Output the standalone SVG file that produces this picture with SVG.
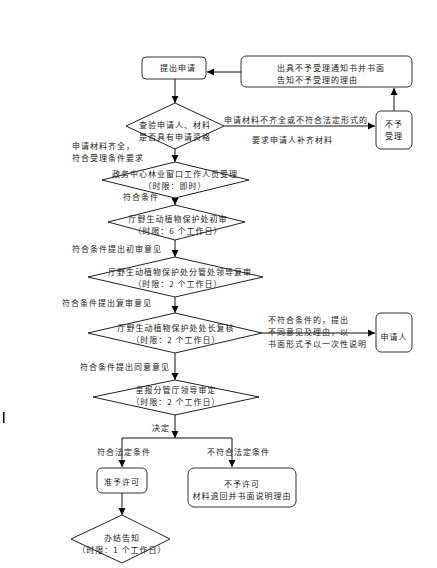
<svg xmlns="http://www.w3.org/2000/svg" width="437" height="568" viewBox="0 0 437 568">
<defs>
<marker id="arr" markerWidth="8" markerHeight="8" refX="7" refY="4" orient="auto" markerUnits="userSpaceOnUse">
<path d="M0,0.5 L7,4 L0,7.5 Z" fill="#000"/>
</marker>
<style>
text{font-family:"Noto Sans CJK SC","Noto Sans",sans-serif;font-size:8px;letter-spacing:1px;fill:#222}
.c{text-anchor:middle}
.box{fill:#fff;stroke:#333;stroke-width:1}
.dia{fill:#fff;stroke:#222;stroke-width:1}
.ln{fill:none;stroke:#111;stroke-width:1;marker-end:url(#arr)}
</style>
</defs>
<rect width="437" height="568" fill="#fff"/>
<g id="connectors">
<path class="ln" d="M175,79 L175,103"/>
<path class="ln" d="M241,72 L207,72"/>
<path class="ln" d="M224,126 L375,126"/>
<path class="ln" d="M394,111 L394,88"/>
<path class="ln" d="M175,149 L175,162"/>
<path class="ln" d="M175,198 L175,205"/>
<path class="ln" d="M175,240 L175,257"/>
<path class="ln" d="M175,297 L175,313"/>
<path class="ln" d="M262,333 L375,333"/>
<path class="ln" d="M175,353 L175,380"/>
<path class="ln" d="M175,415 L175,438"/>
<path class="ln" d="M175,438 L122,438 L122,467"/>
<path class="ln" d="M175,438 L232,438 L232,467"/>
<path class="ln" d="M122,493 L122,515"/>
</g>
<g id="n_submit">
<rect class="box" x="142" y="57" width="64" height="22" rx="4"/>
<text class="c" x="178" y="71">提出申请</text>
</g>
<g id="n_notice">
<rect class="box" x="241" y="56" width="171" height="31" rx="5"/>
<text x="277" y="71">出具不予受理通知书并书面</text>
<text x="277" y="83">告知不予受理的理由</text>
</g>
<g id="d1">
<polygon class="dia" points="175,103 224,126 175,149 126,126"/>
<text class="c" x="175" y="128">查验申请人、材料</text>
<text class="c" x="175" y="140">是否具有申请资格</text>
</g>
<g id="n_reject">
<rect class="box" x="376" y="111" width="36" height="38" rx="5"/>
<text class="c" x="394" y="127">不予</text>
<text class="c" x="394" y="139">受理</text>
</g>
<g id="d2">
<polygon class="dia" points="175,162 249,180 175,198 102,180"/>
<text class="c" x="175" y="177">政务中心林业窗口工作人员受理</text>
<text class="c" x="175" y="189">（时限：即时）</text>
</g>
<g id="d3">
<polygon class="dia" points="175,205 245,222 175,240 108,222"/>
<text class="c" x="178" y="222">厅野生动植物保护处初审</text>
<text class="c" x="178" y="234">（时限：6 个工作日）</text>
</g>
<g id="d4">
<polygon class="dia" points="175,257 263,277 175,297 88,277"/>
<text class="c" x="180" y="275">厅野生动植物保护处分管处领导复审</text>
<text class="c" x="178" y="287">（时限：2 个工作日）</text>
</g>
<g id="d5">
<polygon class="dia" points="175,313 262,333 175,353 88,333"/>
<text class="c" x="176" y="331">厅野生动植物保护处处长复核</text>
<text class="c" x="176" y="343">（时限：2 个工作日）</text>
</g>
<g id="n_applicant">
<rect class="box" x="376" y="313" width="36" height="39" rx="5"/>
<text class="c" x="394" y="340">申请人</text>
</g>
<g id="d6">
<polygon class="dia" points="175,380 259,397 175,415 93,397"/>
<text class="c" x="176" y="393">呈报分管厅领导审定</text>
<text class="c" x="176" y="405">（时限：2 个工作日）</text>
</g>
<g id="n_grant">
<rect class="box" x="97" y="468" width="50" height="25" rx="5"/>
<text class="c" x="122" y="485">准予许可</text>
</g>
<g id="n_deny">
<rect class="box" x="188" y="468" width="108" height="39" rx="6"/>
<text class="c" x="242" y="487">不予许可</text>
<text class="c" x="242" y="499">材料退回并书面说明理由</text>
</g>
<g id="d7">
<polygon class="dia" points="122,515 170,539 122,563 71,539"/>
<text class="c" x="122" y="541">办结告知</text>
<text class="c" x="122" y="553">（时限：1 个工作日）</text>
</g>
<g id="labels">
<text x="224" y="123">申请材料不齐全或不符合法定形式的</text>
<text x="252" y="143">要求申请人补齐材料</text>
<text x="72" y="149">申请材料齐全，</text>
<text x="72" y="161">符合受理条件要求</text>
<text x="123" y="200">符合条件</text>
<text x="72" y="252">符合条件提出初审意见</text>
<text x="62" y="306">符合条件提出复审意见</text>
<text x="268" y="323">不符合条件的，提出</text>
<text x="268" y="335">不同意见及理由，以</text>
<text x="268" y="347">书面形式予以一次性说明</text>
<text x="80" y="370">符合条件提出同意意见</text>
<text x="152" y="431">决定</text>
<text x="97" y="455">符合法定条件</text>
<text x="207" y="455">不符合法定条件</text>
</g>
<rect x="3" y="412" width="1.5" height="11" fill="#000"/>
</svg>
